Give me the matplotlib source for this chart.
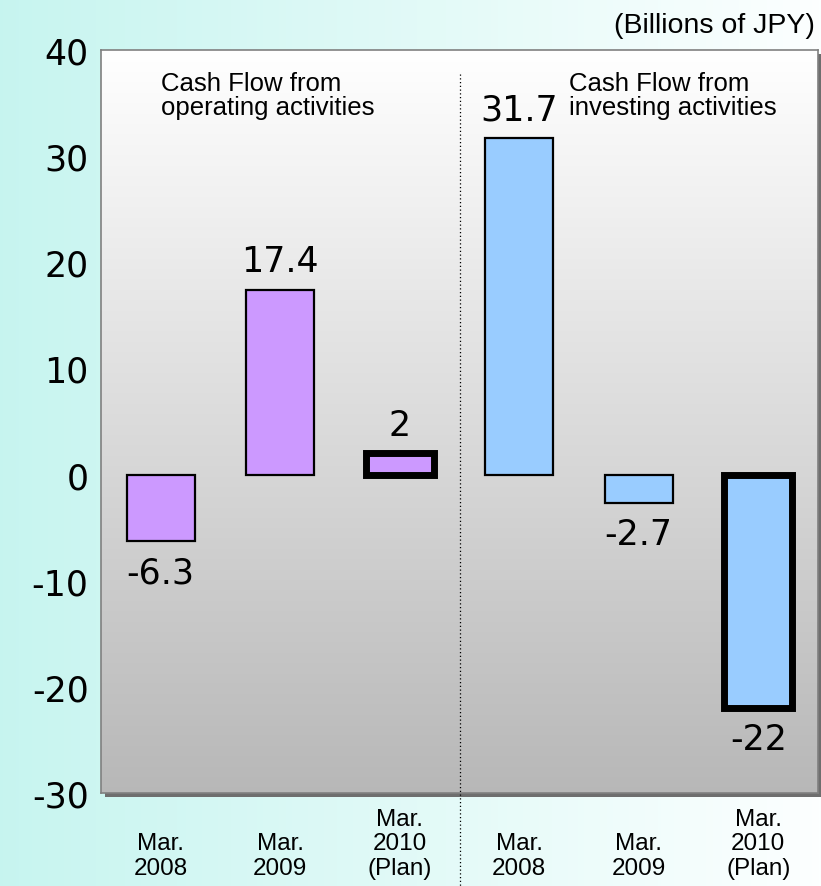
import numpy as np
import matplotlib.pyplot as plt
from matplotlib.patches import Rectangle
from matplotlib.transforms import blended_transform_factory

# data
periods = ["Mar.\n2008", "Mar.\n2009", "Mar.\n2010\n(Plan)"]
operating = [-6.3, 17.4, 2]
investing = [31.7, -2.7, -22]
group_titles = ["Cash Flow from\noperating activities", "Cash Flow from\ninvesting activities"]
unit_label = "(Billions of JPY)"
yticks = [-30, -20, -10, 0, 10, 20, 30, 40]

values = operating + investing
labels = periods + periods
colors = ["#cc99ff"] * 3 + ["#99ccff"] * 3
is_plan = [False, False, True, False, False, True]
x = np.arange(len(values))

narrow = ["Liberation Sans Narrow", "Liberation Sans", "DejaVu Sans"]
plt.rcParams["font.family"] = ["DejaVu Sans"]

fig = plt.figure(figsize=(8.21, 8.87), dpi=100)

# figure background: cyan -> white horizontal gradient
bg = fig.add_axes([0, 0, 1, 1], zorder=-10)
grad = np.linspace(0, 1, 256)[None, :, None]
c0 = np.array([0.78, 0.96, 0.94])
c1 = np.array([0.99, 1.0, 1.0])
bg.imshow(c0 + (c1 - c0) * grad, aspect="auto", extent=[0, 1, 0, 1])
bg.axis("off")

left, bottom, width, height = 101 / 821, 1 - 794 / 887, 717 / 821, 743 / 887
# shadow
fig.patches.append(Rectangle((left + 4 / 821, bottom - 4 / 887), width, height,
                             transform=fig.transFigure, facecolor="#6e6e6e",
                             edgecolor="none", zorder=-5))
ax = fig.add_axes([left, bottom, width, height])
ax.set_xlim(-0.5, 5.5)
ax.set_ylim(-30, 40)

# plot area: white -> gray vertical gradient
vgrad = np.linspace(0, 1, 256)[:, None, None]
top_c = np.array([1.0, 1.0, 1.0])
bot_c = np.array([0.72, 0.72, 0.72])
ax.imshow(top_c + (bot_c - top_c) * vgrad, aspect="auto",
          extent=[-0.5, 5.5, -30, 40], zorder=0)

for xi, v, c, plan in zip(x, values, colors, is_plan):
    ax.bar(xi, v, width=0.57, color=c, edgecolor="black",
           linewidth=5 if plan else 1.6, zorder=3)
    if v >= 0:
        ax.text(xi, v + 1.1, f"{v:g}", ha="center", va="bottom", fontsize=25, zorder=4)
    else:
        ax.text(xi, v - 1.3, f"{v:g}", ha="center", va="top", fontsize=25, zorder=4)

# divider between groups
ax.plot([2.5, 2.5], [37.7, -38.8], color="black", linestyle=(0, (1, 2)),
        linewidth=0.9, clip_on=False, zorder=5)

ax.text(0.0, 38.0, group_titles[0], ha="left", va="top", fontsize=18.5,
        family=narrow, linespacing=1.0)
ax.text(3.42, 38.0, group_titles[1], ha="left", va="top", fontsize=18.5,
        family=narrow, linespacing=1.0)

ax.set_yticks(yticks)
ax.set_yticklabels([str(t) for t in yticks], fontsize=25)
ax.set_xticks(x)
ax.set_xticklabels([])
ax.tick_params(axis="y", length=0, pad=9)
ax.tick_params(axis="x", length=0)

# category labels, bottom-aligned near the figure edge
trans = blended_transform_factory(ax.transData, fig.transFigure)
for xi, lab in zip(x, labels):
    ax.text(xi, 7 / 887, lab, transform=trans, ha="center", va="bottom",
            fontsize=17.5, family=narrow, linespacing=1.15)

for s in ax.spines.values():
    s.set_color("#808080")
    s.set_linewidth(1.2)

fig.text(0.993, 0.971, unit_label, ha="right", va="center", fontsize=20.5, family=narrow)

fig.savefig("out.png", dpi=100)
